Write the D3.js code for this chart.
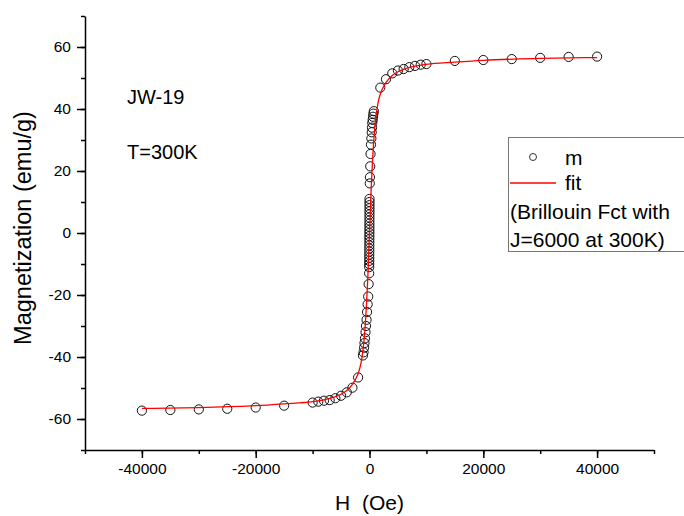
<!DOCTYPE html>
<html>
<head>
<meta charset="utf-8">
<script src="https://cdn.jsdelivr.net/npm/d3@7"></script>
<style>
  body { margin: 0; background: #fff; }
  svg { font-family: Arial, "Liberation Sans", sans-serif; }
</style>
</head>
<body>
<div id="chart"></div>
<script>
// measured points (H in Oe, M in emu/g)
const measH = [
  -40000, -35000, -30000, -25000, -20000, -15000, -10000, -9000, -8000, -7000, -6000, -5000, -4000, -3000, -2000,
  -1150, -1050, -950, -880, -800, -700, -620, -520, -430, -330, -230, -150, -60,
  -50, -48, -45, -42, -40, -38, -35, -32, -30, -28, -25, -22, -20, -18, -15, -12, -10, -8, -5, -2, 0, 0, 0,
  50, 80, 130, 180, 260, 330, 390, 440, 490, 560, 620, 690, 760,
  1900, 2900, 4000, 5000, 6000, 7000, 8000, 9000, 10000, 15000, 20000, 25000, 30000, 35000, 40000
];
const measM = [
  -57.3, -57.1, -56.9, -56.7, -56.3, -55.7, -54.7, -54.4, -54.1, -53.9, -53.3, -52.5, -51.4, -49.9, -46.6,
  -39.5, -38.5, -37, -35.5, -34, -32, -30, -28, -25.5, -23, -20.5, -16.5, -13,
  -11, -10, -9, -8, -7, -6, -5, -4, -3, -2, -1, 0, 1, 2, 3, 4, 5, 6, 7, 8, 9, 10, 11,
  16, 18, 21.5, 25.5, 28.5, 30.5, 32.5, 34, 35.5, 36.5, 37.5, 38.5, 39.3,
  46.9, 49.6, 51.5, 52.4, 52.9, 53.5, 53.9, 54.3, 54.5, 55.5, 55.8, 56.1, 56.5, 56.8, 56.9
];

// fit curve
const fitH = [-40000, -30000, -20000, -15000, -10000, -8000, -6000, -5000, -4000, -3000, -2500, -2000, -1500, -1000, -700, -500, -300, -150,
  0, 150, 300, 500, 700, 1000, 1500, 2000, 2500, 3000, 4000, 5000, 6000, 8000, 10000, 15000, 20000, 30000, 40000];
const fitM = [-56.6, -56.3, -55.7, -55.1, -54.4, -53.8, -52.8, -52.0, -50.8, -48.8, -47.3, -45.4, -42.0, -35.5, -28.5, -22.0, -14.5, -7.5,
  0, 7.5, 14.5, 22.0, 28.5, 35.5, 42.0, 45.4, 47.3, 48.8, 50.8, 52.0, 52.8, 53.8, 54.4, 55.1, 55.7, 56.3, 56.6];

const xTicks = [-40000, -20000, 0, 20000, 40000];
const yTicks = [-60, -40, -20, 0, 20, 40, 60];
const legendLines = ["m", "fit", "(Brillouin Fct with", "J=6000 at 300K)"];
const sampleLabels = ["JW-19", "T=300K"];

const width = 684, height = 516;
const margin = { top: 16, right: 30, bottom: 66, left: 85 };

const svg = d3.select("#chart").append("svg")
  .attr("width", width)
  .attr("height", height);

const x = d3.scaleLinear()
  .domain([-50000, 50000])
  .range([margin.left, width - margin.right]);

const y = d3.scaleLinear()
  .domain([-70, 70])
  .range([height - margin.bottom, margin.top]);

const plain = d => String(d);

// minor ticks first so the major ones sit on top
svg.append("g")
  .attr("transform", `translate(0,${height - margin.bottom})`)
  .call(d3.axisBottom(x).tickValues(d3.range(-50000, 50001, 10000)).tickSize(4).tickFormat(""))
  .call(g => g.select(".domain").remove());

svg.append("g")
  .attr("transform", `translate(${margin.left},0)`)
  .call(d3.axisLeft(y).tickValues(d3.range(-70, 71, 10)).tickSize(4).tickFormat(""))
  .call(g => g.select(".domain").remove());

const xAxis = svg.append("g")
  .attr("transform", `translate(0,${height - margin.bottom})`)
  .call(d3.axisBottom(x).tickValues(xTicks).tickSize(8).tickSizeOuter(0).tickPadding(5).tickFormat(plain));
xAxis.selectAll("text").attr("font-size", 15.5).attr("fill", "#000");

const yAxis = svg.append("g")
  .attr("transform", `translate(${margin.left},0)`)
  .call(d3.axisLeft(y).tickValues(yTicks).tickSize(8).tickSizeOuter(0).tickPadding(6).tickFormat(plain));
yAxis.selectAll("text").attr("font-size", 15.5).attr("fill", "#000");

svg.selectAll(".domain, .tick line").attr("stroke", "#000").attr("stroke-width", 1.5);

// axis titles
svg.append("text")
  .attr("x", x(0))
  .attr("y", 510)
  .attr("text-anchor", "middle")
  .attr("font-size", 21)
  .attr("xml:space", "preserve")
  .text("H  (Oe)");

svg.append("text")
  .attr("text-anchor", "middle")
  .attr("transform", `translate(31,228) rotate(-90)`)
  .attr("font-size", 23.5)
  .text("Magnetization (emu/g)");

// sample labels
svg.selectAll(".sample")
  .data(sampleLabels)
  .enter().append("text")
  .attr("class", "sample")
  .attr("x", 127)
  .attr("y", (d, i) => 104 + i * 55)
  .attr("font-size", 20)
  .text(d => d);

// points
svg.append("g")
  .selectAll("circle")
  .data(measH.map((h, i) => ({ h, m: measM[i] })))
  .enter().append("circle")
  .attr("cx", d => x(d.h))
  .attr("cy", d => y(d.m))
  .attr("r", 4.6)
  .attr("fill", "none")
  .attr("stroke", "#111")
  .attr("stroke-width", 1);

// fit line
const line = d3.line()
  .x(d => x(d.h))
  .y(d => y(d.m))
  .curve(d3.curveMonotoneX);

svg.append("path")
  .datum(fitH.map((h, i) => ({ h, m: fitM[i] })))
  .attr("d", line)
  .attr("fill", "none")
  .attr("stroke", "#f00")
  .attr("stroke-width", 1.3);

// legend
const lg = svg.append("g");
lg.append("rect")
  .attr("x", 508.5)
  .attr("y", 137.5)
  .attr("width", 200)
  .attr("height", 114)
  .attr("fill", "#fff")
  .attr("stroke", "#777")
  .attr("stroke-width", 1);

lg.append("circle")
  .attr("cx", 533)
  .attr("cy", 157)
  .attr("r", 3.5)
  .attr("fill", "none")
  .attr("stroke", "#333")
  .attr("stroke-width", 1);

lg.append("line")
  .attr("x1", 510).attr("x2", 556)
  .attr("y1", 183).attr("y2", 183)
  .attr("stroke", "#f00")
  .attr("stroke-width", 1.3);

lg.selectAll(".lt")
  .data(legendLines)
  .enter().append("text")
  .attr("class", "lt")
  .attr("x", (d, i) => i < 2 ? 565 : 510)
  .attr("y", (d, i) => [165, 190, 219, 247][i])
  .attr("font-size", 21)
  .text(d => d);
</script>
</body>
</html>
